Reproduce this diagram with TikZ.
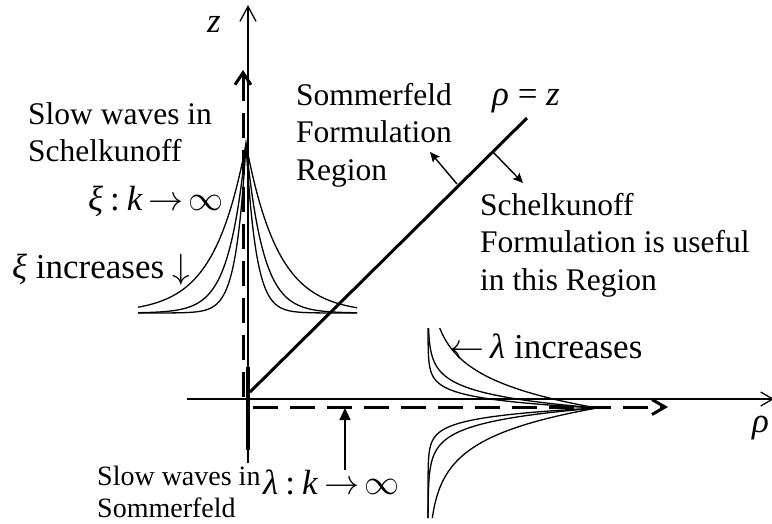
\documentclass[tikz,border=0pt]{standalone}
\usepackage{fontspec}
\usepackage{graphicx}
\setmainfont{Liberation Serif}
\usetikzlibrary{arrows.meta}
\newcommand{\mysym}[1]{\scalebox{3.5}{\normalsize$#1$}}
\begin{document}
\begin{tikzpicture}[x=1pt,y=-1pt,
  lbl/.style={inner sep=0pt, font=\fontsize{31.5}{37.5}\selectfont, align=left},
  smlbl/.style={inner sep=0pt, font=\fontsize{28}{32}\selectfont, align=left},
  biglbl/.style={inner sep=0pt, font=\fontsize{35}{40}\selectfont},
  axisline/.style={line width=1.3pt},
  thickdash/.style={line width=3pt, dash pattern=on 25pt off 12pt},
  curve/.style={line width=1.3pt},
  normalarrow/.style={line width=1.4pt, -{Stealth[length=10pt,width=9pt,inset=2pt]}}
]
\useasboundingbox (0,0) rectangle (772,523);

% coordinates
\coordinate (zb) at (248,463);
\coordinate (zt) at (248,5);
\coordinate (rl) at (187,399);
\coordinate (rr) at (774,399);
\coordinate (vdb) at (243,397);
\coordinate (vdt) at (243,70);
\coordinate (hdl) at (253,407);
\coordinate (hdr) at (668,407);
\coordinate (dg1) at (250,392);
\coordinate (dg2) at (527,118);
\coordinate (ts1) at (248,367);
\coordinate (ts2) at (248,450);
\coordinate (n1s) at (457,184);
\coordinate (n1e) at (430,152);
\coordinate (n2s) at (493,152);
\coordinate (n2e) at (523,183);
\coordinate (ua) at (345,470);
\coordinate (ub) at (345,408);

% axes
\draw[axisline, -{Straight Barb[length=15pt,width=16pt]}] (zb) -- (zt);
\draw[axisline, -{Straight Barb[length=12pt,width=14pt]}] (rl) -- (rr);

% dashed slow-wave lines
\draw[thickdash, -{Straight Barb[length=12pt,width=16pt]}] (vdb) -- (vdt);
\draw[thickdash, -{Straight Barb[length=13pt,width=15pt]}] (hdl) -- (hdr);

% thick segment on z axis
\draw[line width=4.5pt] (ts1) -- (ts2);

% rho = z line
\draw[line width=3pt] (dg1) -- (dg2);

% normals
\draw[normalarrow] (n1s) -- (n1e);
\draw[normalarrow] (n2s) -- (n2e);

% up arrow
\draw[line width=1.4pt, -{Triangle[length=12pt,width=11pt]}] (ua) -- (ub);

% xi family
\foreach \a in {10,17,32}
  \draw[curve] plot[domain=-108:111, samples=220] ({246+\x},{313-169*exp(-abs(\x)/\a)});

% lambda family
\foreach \a in {9,14,30}
  \draw[curve] plot[domain=-80:110, samples=191] ({428+169*exp(-abs(\x)/\a)},{408+\x});

% labels
\node[biglbl, anchor=base west] (zl) at (207,32) {\textit{z}};
\node[biglbl, anchor=base west] (rz) at (492,105) {\textit{ρ} = \textit{z}};
\node[lbl, anchor=north west] (somm) at (296,83) {Sommerfeld\\Formulation\\Region};
\node[lbl, anchor=north west] (sch) at (480,193) {Schelkunoff\\Formulation is useful\\in this Region};
\node[lbl, anchor=north west] (sws) at (28,102) {Slow waves in\\Schelkunoff};
\node[biglbl, anchor=base west] (xk) at (88,210) {\textit{ξ}\hspace{7pt}:\hspace{7pt}\textit{k}\hspace{6pt}\mysym{\rightarrow}\hspace{5pt}\mysym{\infty}};
\node[biglbl, anchor=base west] (xi) at (12,278) {\textit{ξ} increases \mysym{\downarrow}};
\node[biglbl, anchor=base west] (li) at (449,358) {\mysym{\leftarrow}\hspace{6pt}\textit{λ} increases};
\node[smlbl, anchor=north west] (swsm) at (97,466) {Slow waves in\\Sommerfeld};
\node[biglbl, anchor=base west] (lk) at (263,494) {\textit{λ}\hspace{7pt}:\hspace{7pt}\textit{k}\hspace{6pt}\mysym{\rightarrow}\hspace{5pt}\mysym{\infty}};
\node[biglbl, anchor=base west] (rho) at (752,432) {\textit{ρ}};
\end{tikzpicture}
\end{document}
